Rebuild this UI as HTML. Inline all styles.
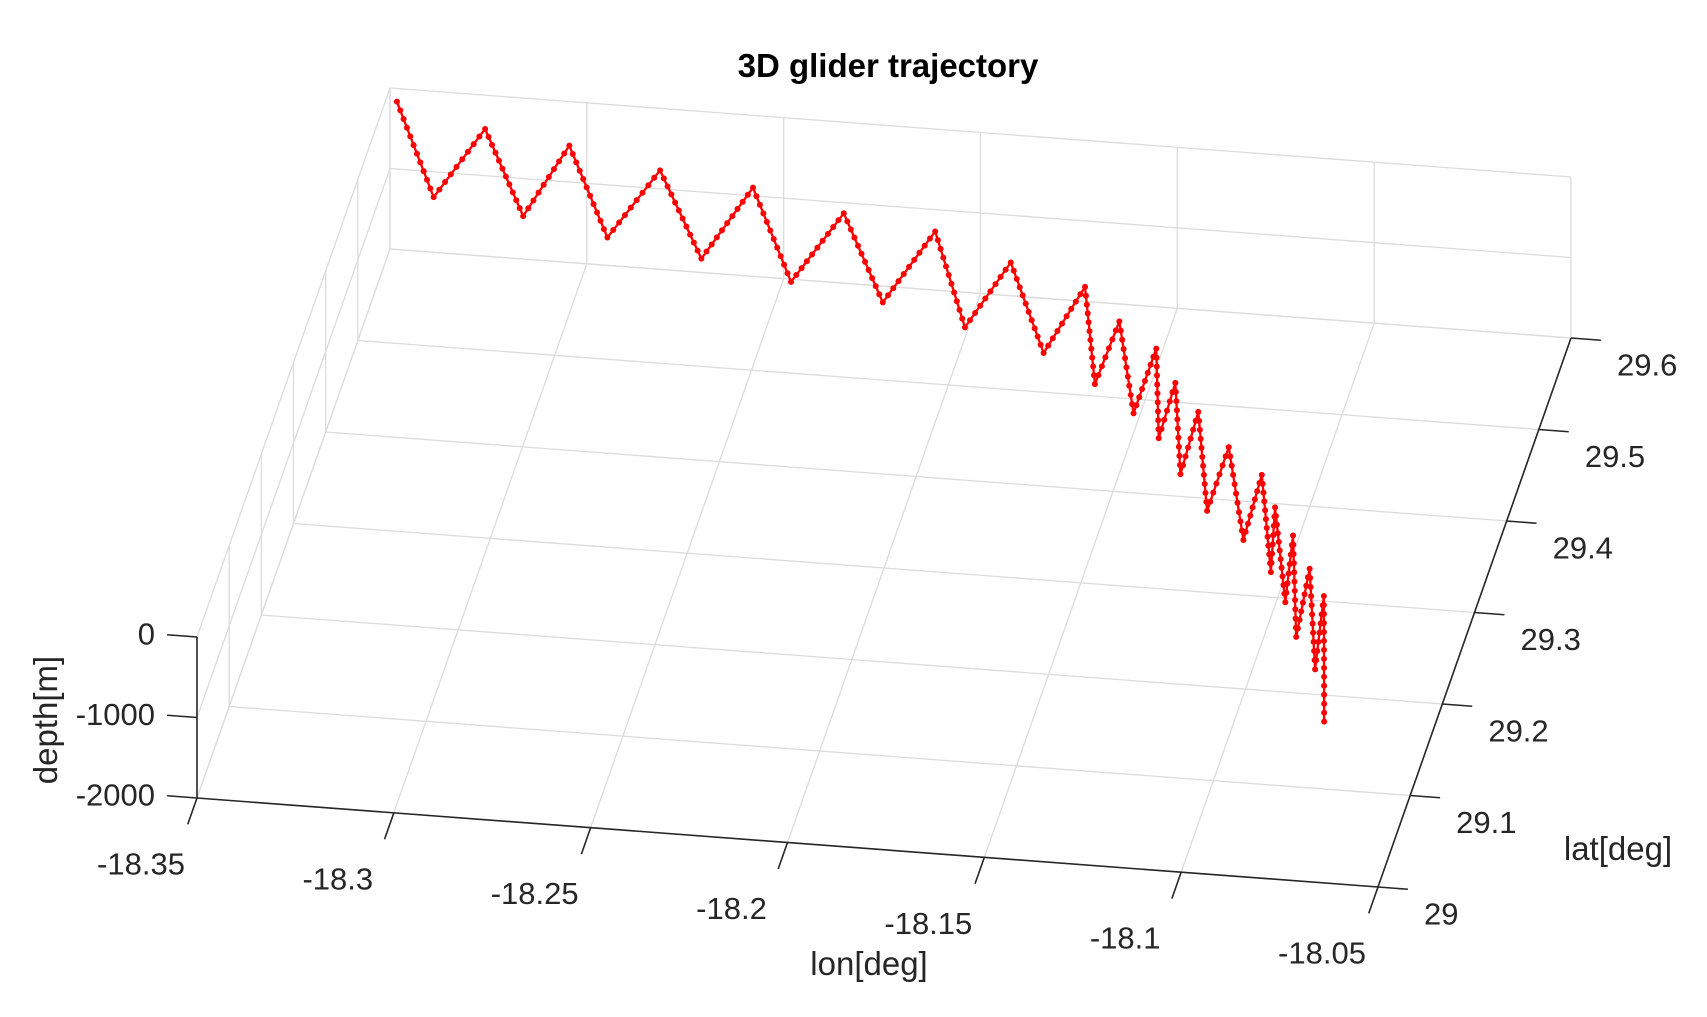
<!DOCTYPE html>
<html><head><meta charset="utf-8"><style>
html,body{margin:0;padding:0;background:#fff}
svg{display:block}
text{font-family:"Liberation Sans",Arial,sans-serif;fill:#262626}
</style></head><body>
<svg id="chart" width="1707" height="1017" viewBox="0 0 1707 1017" xmlns="http://www.w3.org/2000/svg">
<rect width="1707" height="1017" fill="#fff"/>
<text x="888" y="77" text-anchor="middle" font-size="33" font-weight="bold" style="fill:#000">3D glider trajectory</text>
<g id="grid"></g>
<g id="axes"></g>
<g id="series"></g>
<text x="869" y="975" text-anchor="middle" font-size="33">lon[deg]</text>
<text x="1618" y="860" text-anchor="middle" font-size="33">lat[deg]</text>
<text x="0" y="0" transform="translate(57,720) rotate(-90)" text-anchor="middle" font-size="33">depth[m]</text>
</svg>
<script>
const lonTicks=[-18.35,-18.3,-18.25,-18.2,-18.15,-18.1,-18.05];
const lonTickLabels=["-18.35","-18.3","-18.25","-18.2","-18.15","-18.1","-18.05"];
const latTicks=[29,29.1,29.2,29.3,29.4,29.5,29.6];
const latTickLabels=["29","29.1","29.2","29.3","29.4","29.5","29.6"];
const depthTicks=[-2000,-1000,0];
const depthTickLabels=["-2000","-1000","0"];
const lonData=[-18.3471,-18.3367,-18.3229,-18.3129,-18.3006,-18.2902,-18.276,-18.2651,-18.2515,-18.2409,-18.2268,-18.2164,-18.2026,-18.1939,-18.1812,-18.1722,-18.1607,-18.1568,-18.1492,-18.1447,-18.1377,-18.1363,-18.13,-18.1278,-18.1218,-18.118,-18.1112,-18.1065,-18.1006,-18.0969,-18.0945,-18.0907,-18.0876,-18.085,-18.0806,-18.0775,-18.0747,-18.0707];
const latData=[29.586,29.573,29.564,29.56,29.553,29.544,29.534,29.529,29.523,29.5115,29.503,29.497,29.491,29.477,29.464,29.456,29.444,29.427,29.41,29.399,29.384,29.3745,29.349,29.338,29.32,29.301,29.285,29.273,29.258,29.241,29.2245,29.21,29.196,29.174,29.162,29.141,29.134,29.086];
const depthData=[0,-1000,0,-1000,0,-1000,0,-1000,0,-1000,0,-1000,0,-1000,0,-1000,0,-1000,0,-1000,0,-1000,0,-1000,0,-1000,0,-1000,0,-1000,0,-1000,0,-1000,0,-1000,0,-1000];

const NS='http://www.w3.org/2000/svg';
const O=[197,798], U=[1181,89], V=[193,-549], ZH=161;
const lonMin=-18.35,lonMax=-18.05,latMin=29,latMax=29.6,zMin=-2000,zMax=0;
function proj(lon,lat,z){
  const a=(lon-lonMin)/(lonMax-lonMin), b=(lat-latMin)/(latMax-latMin), w=(z-zMin)/(zMax-zMin);
  return [O[0]+a*U[0]+b*V[0], O[1]+a*U[1]+b*V[1]-w*ZH];
}
function line(g,p,q,stroke,sw,name){
  const l=document.createElementNS(NS,'line');
  l.setAttribute('x1',p[0]);l.setAttribute('y1',p[1]);l.setAttribute('x2',q[0]);l.setAttribute('y2',q[1]);
  l.setAttribute('stroke',stroke);l.setAttribute('stroke-width',sw);
  
  
  g.appendChild(l);
}
function txt(g,x,y,s,anchor,name){
  const t=document.createElementNS(NS,'text');
  t.setAttribute('x',x);t.setAttribute('y',y);t.setAttribute('font-size','31');
  t.setAttribute('text-anchor',anchor);t.setAttribute('dominant-baseline','central');
  t.textContent=s;
  
  
  g.appendChild(t);
}
const grid=document.getElementById('grid'), axes=document.getElementById('axes'), ser=document.getElementById('series');
const GC='#dcdcdc';
lonTicks.forEach(v=>line(grid,proj(v,latMin,zMin),proj(v,latMax,zMin),GC,1.3,'floor-grid-lon'));
latTicks.forEach(v=>line(grid,proj(lonMin,v,zMin),proj(lonMax,v,zMin),GC,1.3,'floor-grid-lat'));
lonTicks.forEach(v=>line(grid,proj(v,latMax,zMin),proj(v,latMax,zMax),GC,1.3,'back-grid-lon'));
depthTicks.forEach(v=>line(grid,proj(lonMin,latMax,v),proj(lonMax,latMax,v),GC,1.3,'back-grid-depth'));
latTicks.forEach(v=>line(grid,proj(lonMin,v,zMin),proj(lonMin,v,zMax),GC,1.3,'left-grid-lat'));
depthTicks.forEach(v=>line(grid,proj(lonMin,latMin,v),proj(lonMin,latMax,v),GC,1.3,'left-grid-depth'));
const AC='#262626';
line(axes,proj(lonMin,latMin,zMin),proj(lonMax,latMin,zMin),AC,1.6,'x-axis-line');
line(axes,proj(lonMax,latMin,zMin),proj(lonMax,latMax,zMin),AC,1.6,'y-axis-line');
line(axes,proj(lonMin,latMin,zMin),proj(lonMin,latMin,zMax),AC,1.6,'z-axis-line');
const vl=Math.hypot(V[0],V[1]), ul=Math.hypot(U[0],U[1]);
lonTicks.forEach((v,i)=>{const p=proj(v,latMin,zMin);
  line(axes,p,[p[0]-28*V[0]/vl,p[1]-28*V[1]/vl],AC,1.6,'x-tick');
  txt(axes,p[0]-56,p[1]+66,lonTickLabels[i],'middle','x-tick-label');});
latTicks.forEach((v,i)=>{const p=proj(lonMax,v,zMin);
  line(axes,p,[p[0]+30*U[0]/ul,p[1]+30*U[1]/ul],AC,1.6,'y-tick');
  txt(axes,p[0]+46,p[1]+27,latTickLabels[i],'start','y-tick-label');});
depthTicks.forEach((v,i)=>{const p=proj(lonMin,latMin,v);
  line(axes,p,[p[0]-30*U[0]/ul,p[1]-30*U[1]/ul],AC,1.6,'z-tick');
  txt(axes,p[0]-42,p[1]-3,depthTickLabels[i],'end','z-tick-label');});
const pts=lonData.map((v,i)=>proj(v,latData[i],depthData[i]));
const pl=document.createElementNS(NS,'polyline');
pl.setAttribute('points',pts.map(p=>p.join(',')).join(' '));
pl.setAttribute('fill','none');pl.setAttribute('stroke','#ff0000');pl.setAttribute('stroke-width','2.3');
pl.setAttribute('stroke-linejoin','round');


ser.appendChild(pl);
for(let i=0;i<pts.length;i++){
  const p=pts[i], q=pts[i+1];
  const n=q?Math.max(1,Math.round(Math.hypot(q[0]-p[0],q[1]-p[1])/9)):1;
  for(let k=0;k<n;k++){
    const t=k/n, x=q?p[0]+(q[0]-p[0])*t:p[0], y=q?p[1]+(q[1]-p[1])*t:p[1];
    const c=document.createElementNS(NS,'circle');
    c.setAttribute('cx',x);c.setAttribute('cy',y);c.setAttribute('r','3');c.setAttribute('fill','#ff0000');
    
    
    ser.appendChild(c);
  }
}
</script>
</body></html>
